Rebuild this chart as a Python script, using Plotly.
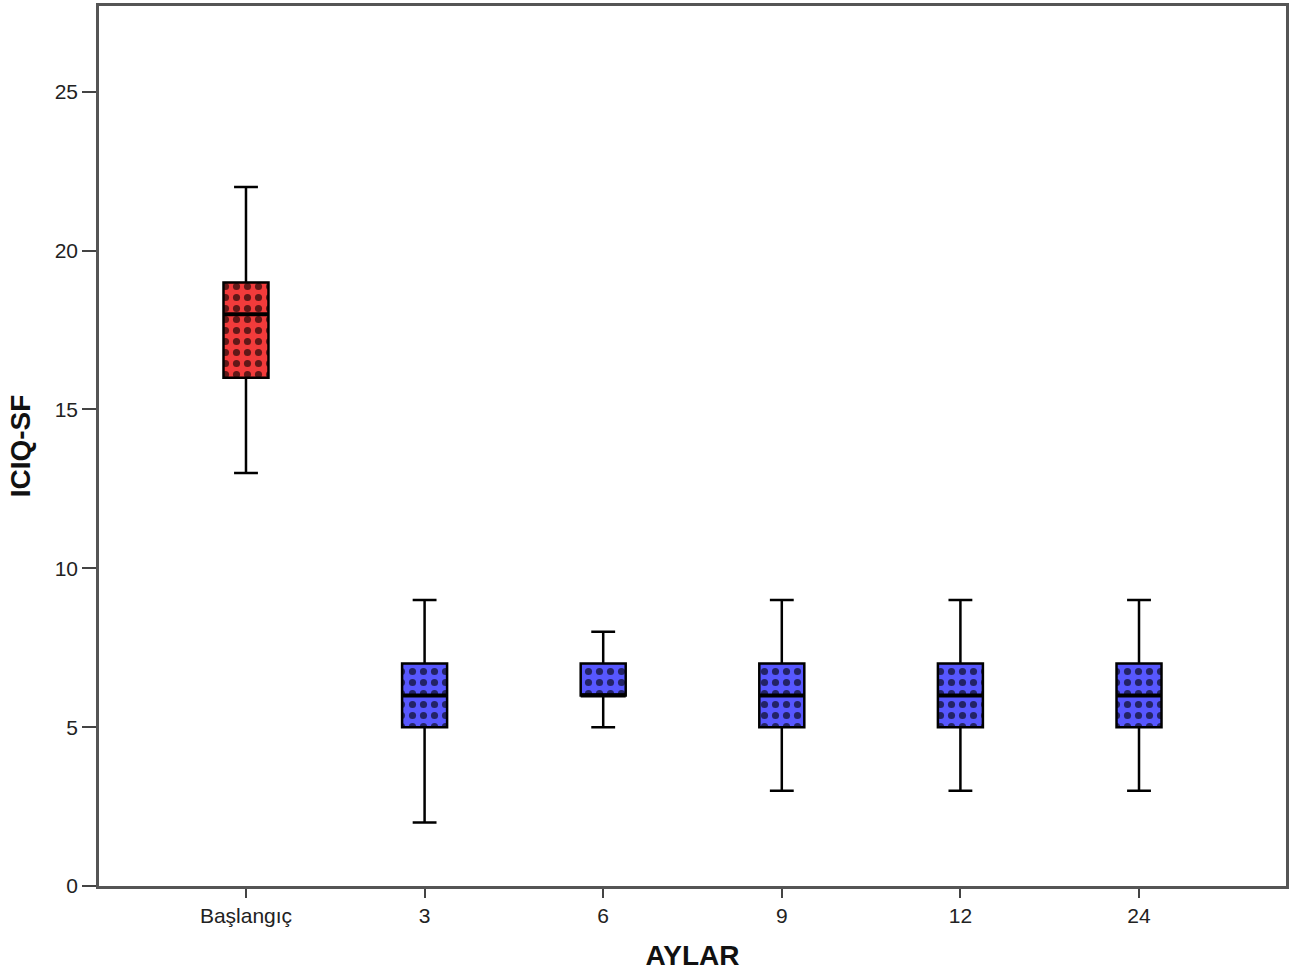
import plotly.graph_objects as go

categories = ["Başlangıç", "3", "6", "9", "12", "24"]
lower_whisker = [13, 2, 5, 3, 3, 3]
q1 = [16, 5, 6, 5, 5, 5]
median = [18, 6, 6, 6, 6, 6]
q3 = [19, 7, 7, 7, 7, 7]
upper_whisker = [22, 9, 8, 9, 9, 9]
box_colors = ["#F23B3B", "#5757FF", "#5757FF", "#5757FF", "#5757FF", "#5757FF"]
y_ticks = [0, 5, 10, 15, 20, 25]

BOX_W = 0.252
xs = list(range(len(categories)))

fig = go.Figure()

# patterned box fill (IQR) as bars
for i in xs:
    fig.add_trace(go.Bar(
        x=[i], y=[q3[i] - q1[i]], base=[q1[i]], width=BOX_W,
        marker=dict(
            color=box_colors[i],
            line=dict(color="#222222", width=1),
            pattern=dict(shape=".", fillmode="overlay", fgcolor="#000000",
                         fgopacity=0.6, size=11, solidity=0.33),
        ),
        hoverinfo="skip", showlegend=False,
    ))

# whiskers / outline
for i in xs:
    fig.add_trace(go.Box(
        x=[i], q1=[q1[i]], median=[median[i]], q3=[q3[i]],
        lowerfence=[lower_whisker[i]], upperfence=[upper_whisker[i]],
        width=BOX_W, whiskerwidth=0.53,
        fillcolor="rgba(0,0,0,0)",
        line=dict(color="#000000", width=2.5),
        boxpoints=False, hoverinfo="skip", showlegend=False,
    ))

# thick median lines
for i in xs:
    fig.add_trace(go.Scatter(
        x=[i - BOX_W / 2, i + BOX_W / 2], y=[median[i], median[i]],
        mode="lines", line=dict(color="#000000", width=4),
        hoverinfo="skip", showlegend=False,
    ))

axis_font = dict(family="Liberation Sans, Arial, sans-serif", size=21, color="#222222")
title_font = dict(family="Liberation Sans, Arial, sans-serif", size=28, color="#111111")

fig.update_layout(
    width=1297, height=977,
    margin=dict(l=99, r=11, t=3, b=91),
    paper_bgcolor="white", plot_bgcolor="white",
    barmode="overlay", boxmode="overlay",
    xaxis=dict(
        range=[-0.823, len(categories) - 1 + 0.823],
        tickmode="array", tickvals=xs, ticktext=categories,
        ticks="outside", ticklen=9, tickwidth=2, tickcolor="#444444",
        showgrid=False, zeroline=False,
        showline=True, linecolor="#555555", linewidth=2.5, mirror=True,
        tickfont=axis_font,
        title=dict(text="<b>AYLAR</b>", font=title_font, standoff=20),
    ),
    yaxis=dict(
        range=[0, 27.7],
        tickmode="array", tickvals=y_ticks,
        ticks="outside", ticklen=14, tickwidth=2, tickcolor="#444444",
        showgrid=False, zeroline=False,
        showline=True, linecolor="#555555", linewidth=2.5, mirror=True,
        tickfont=axis_font,
        title=dict(text="<b>ICIQ-SF</b>", font=title_font, standoff=16),
    ),
)

fig.write_html("out.html")
